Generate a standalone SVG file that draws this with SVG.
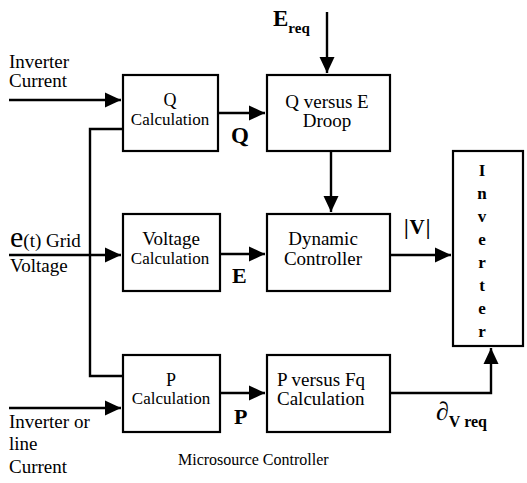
<svg xmlns="http://www.w3.org/2000/svg" width="527" height="483" viewBox="0 0 527 483" font-family="'Liberation Serif', 'Times New Roman', 'DejaVu Serif', serif">
<style>
text{font-family:'Liberation Serif','Times New Roman','DejaVu Serif',serif;fill:#000}
.box{fill:#fff;stroke:#000;stroke-width:2.2}
.c{stroke:#000;stroke-width:2.4;fill:none}
.m{text-anchor:middle}
.b{font-weight:bold}
</style>
<defs>
<marker id="ah" markerUnits="userSpaceOnUse" markerWidth="17" markerHeight="16" refX="16" refY="8" orient="auto">
<path d="M0,0.5 L16,8 L0,15.5 z" fill="#000"/>
</marker>
</defs>
<rect width="527" height="483" fill="#fff"/>
<g id="connectors">
<path class="c" d="M9,100 H121" marker-end="url(#ah)"/>
<path class="c" d="M123,129 H90 V376 H123"/>
<path class="c" d="M9,255 H121" marker-end="url(#ah)"/>
<path class="c" d="M9,408 H121" marker-end="url(#ah)"/>
<path class="c" d="M218,113 H265" marker-end="url(#ah)"/>
<path class="c" d="M220,254 H265" marker-end="url(#ah)"/>
<path class="c" d="M220,393 H265" marker-end="url(#ah)"/>
<path class="c" d="M327,12 V73" marker-end="url(#ah)"/>
<path class="c" d="M331,151 V212" marker-end="url(#ah)"/>
<path class="c" d="M390,255 H451" marker-end="url(#ah)"/>
<path class="c" d="M390,393 H491 V348" marker-end="url(#ah)"/>
</g>
<g id="q-calc">
<rect class="box" x="123" y="75" width="95" height="76"/>
<text class="m" x="170" y="106" font-size="18">Q</text>
<text class="m" x="170" y="125" font-size="17">Calculation</text>
</g>
<g id="voltage-calc">
<rect class="box" x="123" y="214" width="97" height="77"/>
<text class="m" x="171" y="245" font-size="19">Voltage</text>
<text class="m" x="170" y="264" font-size="17">Calculation</text>
</g>
<g id="p-calc">
<rect class="box" x="123" y="355" width="97" height="77"/>
<text class="m" x="171" y="386" font-size="18">P</text>
<text class="m" x="171" y="404" font-size="17">Calculation</text>
</g>
<g id="q-vs-e">
<rect class="box" x="267" y="75" width="123" height="76"/>
<text class="m" x="327" y="108" font-size="19">Q versus E</text>
<text class="m" x="327" y="127" font-size="19">Droop</text>
</g>
<g id="dynamic">
<rect class="box" x="267" y="214" width="123" height="77"/>
<text class="m" x="323" y="245" font-size="19">Dynamic</text>
<text class="m" x="323" y="265" font-size="19">Controller</text>
</g>
<g id="p-vs-fq">
<rect class="box" x="267" y="355" width="123" height="77"/>
<text x="277" y="386" font-size="19">P versus Fq</text>
<text x="277" y="405" font-size="19">Calculation</text>
</g>
<g id="inverter">
<rect class="box" x="453" y="151" width="70" height="195"/>
<g class="m b" font-size="17">
<text x="482" y="176">I</text>
<text x="482" y="199">n</text>
<text x="482" y="222">v</text>
<text x="482" y="245">e</text>
<text x="482" y="268">r</text>
<text x="482" y="291">t</text>
<text x="482" y="314">e</text>
<text x="482" y="337">r</text>
</g>
</g>
<g id="labels">
<text x="9" y="68" font-size="19">Inverter</text>
<text x="9" y="87" font-size="19">Current</text>
<text x="10" y="247" font-size="30">e<tspan font-size="19">(t) Grid</tspan></text>
<text x="10" y="272" font-size="19">Voltage</text>
<text x="9" y="428" font-size="19">Inverter or</text>
<text x="9" y="450" font-size="19">line</text>
<text x="9" y="473" font-size="19">Current</text>
<text class="b" x="231" y="143" font-size="23">Q</text>
<text class="b" x="232" y="283" font-size="22">E</text>
<text class="b" x="234" y="424" font-size="22">P</text>
<text class="b" x="273" y="26" font-size="23">E<tspan font-size="15" dy="7">req</tspan></text>
<text class="b" x="404" y="234" font-size="21" letter-spacing="1">|V|</text>
<text class="b" x="436" y="420" font-size="26" font-style="italic">∂<tspan font-size="16" font-style="normal" dy="7">V req</tspan></text>
<text x="178" y="465" font-size="16">Microsource Controller</text>
</g>
</svg>
